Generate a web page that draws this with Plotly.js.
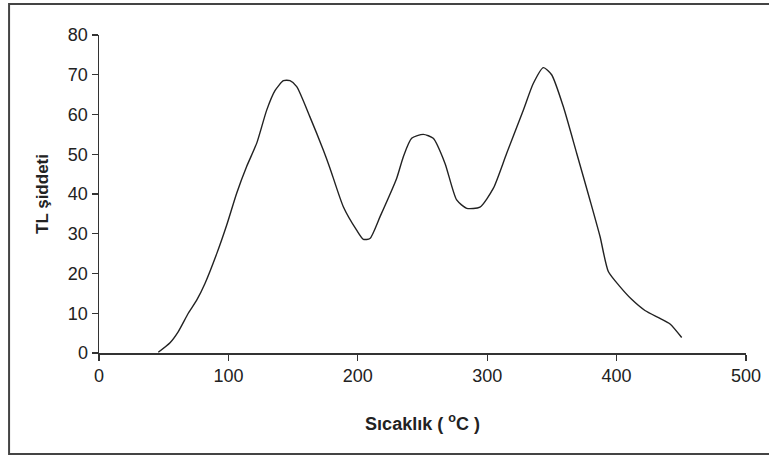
<!DOCTYPE html>
<html>
<head>
<meta charset="utf-8">
<script src="https://cdn.plot.ly/plotly-3.0.1.min.js"></script>
<style>html,body{margin:0;padding:0;background:#fff;}#chart{width:769px;height:456px;}</style>
</head>
<body>
<div id="chart"></div>
<script>
const temperature = [45.8, 54.9, 61.3, 69, 75.5, 81.9, 91, 98.7, 106.4, 114.1, 121.9, 129.6, 136, 142.5, 147.6, 152.8, 163, 173.4, 178.5, 188.8, 199.1, 204.3, 209.4, 217.2, 230, 235.2, 241.6, 250.6, 258.3, 267.4, 276.4, 284.2, 294.4, 304.7, 315, 327.9, 335.6, 343.4, 349.8, 358.8, 369.2, 379.4, 387.2, 393.6, 402.6, 411.6, 421.9, 433.5, 441.3, 450.3];
const intensity = [0.2, 2.6, 5.4, 10, 13.3, 17.5, 25, 32.2, 40.2, 46.9, 52.8, 61.1, 66, 68.5, 68.5, 67, 59.4, 51, 46.5, 36.8, 30.9, 28.6, 28.8, 34.3, 43.9, 49.4, 54, 55, 54, 47.7, 38.5, 36.4, 36.7, 41.4, 50.2, 61.1, 67.8, 71.8, 70, 62, 50.2, 38.5, 29.3, 20.5, 16.7, 13.5, 10.7, 8.7, 7.3, 3.9];
const xTitle = 'Sıcaklık ( <sup>o</sup>C )';
const yTitle = 'TL şiddeti';

const fontFam = '"Liberation Sans", Arial, sans-serif';
const trace = {
  x: temperature, y: intensity, type: 'scatter', mode: 'lines',
  line: {color: '#222', width: 1.4, shape: 'spline', smoothing: 0.6},
  hoverinfo: 'skip', showlegend: false
};
const layout = {
  width: 769, height: 456,
  margin: {l: 99, r: 23, t: 35, b: 103},
  paper_bgcolor: '#fff', plot_bgcolor: '#fff',
  font: {family: fontFam, color: '#222', size: 18},
  xaxis: {
    range: [0, 500], dtick: 100, tick0: 0, showgrid: false, zeroline: false,
    showline: true, linecolor: '#333', linewidth: 1.5,
    ticks: 'outside', ticklen: 6, tickwidth: 1.3, tickcolor: '#333',
    tickfont: {family: fontFam, size: 18, color: '#222'},
    title: {text: xTitle, font: {family: fontFam, size: 18, color: '#222', weight: 'bold'}, standoff: 32}
  },
  yaxis: {
    range: [0, 80], dtick: 10, tick0: 0, showgrid: false, zeroline: false,
    showline: true, linecolor: '#333', linewidth: 1.5,
    ticks: 'outside', ticklen: 6, tickwidth: 1.3, tickcolor: '#333',
    tickfont: {family: fontFam, size: 18, color: '#222'},
    title: {text: yTitle, font: {family: fontFam, size: 17, color: '#222', weight: 'bold'}, standoff: 15}
  },
  shapes: [{
    type: 'rect', xref: 'paper', yref: 'paper',
    x0: -0.139, x1: 1.045, y0: -0.3176, y1: 1.0975,
    line: {color: '#444', width: 2}, fillcolor: 'rgba(0,0,0,0)', layer: 'below'
  }]
};
Plotly.newPlot('chart', [trace], layout, {displayModeBar: false, staticPlot: true});
</script>
</body>
</html>
